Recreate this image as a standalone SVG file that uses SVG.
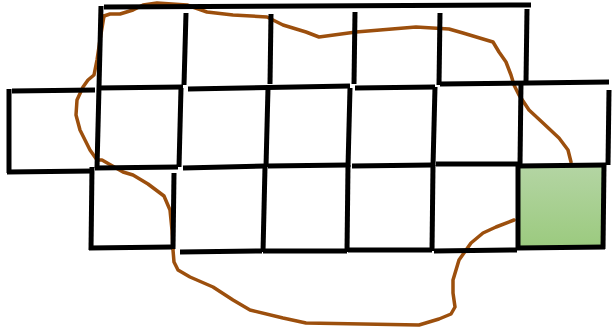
<svg xmlns="http://www.w3.org/2000/svg" width="612" height="331" viewBox="0 0 612 331">
<defs>
<linearGradient id="g" x1="0" y1="0" x2="0" y2="1">
<stop offset="0" stop-color="#b4d5a4"/>
<stop offset="1" stop-color="#9bca7e"/>
</linearGradient>
<style>
.k{stroke:#000;stroke-width:5;fill:none;stroke-linecap:butt}
.c{stroke:#9c4f0d;stroke-width:3.5;fill:none;stroke-linejoin:round;stroke-linecap:round}
</style>
</defs>
<rect width="612" height="331" fill="#fff"/>
<g id="green-cell">
<polygon points="518,166 605,165 603,247 519,248" fill="url(#g)"/>
</g>
<g id="curve">
<path class="c" d="M104,16 L110,14 L120,14 L133,10 L143,5 L157,3 L187,5 L207,12 L233,15 L267,17 L283,25 L306,32 L319,37 L356,32 L416,27 L449,29 L463,33 L493,42 L499,52 L506,62 L511,75 L514,85 L519,95 L529,110 L543,123 L559,138 L568,150 L571,162"/>
<path class="c" d="M514,220 L496,227 L483,233 L471,243 L459,260 L453,280 L453,293 L455,307 L451,314 L439,319 L419,325 L306,323 L283,318 L250,310 L233,300 L213,287 L190,277 L178,270 L174,262 L173,250 L172,230 L170,210 L164,196 L148,184 L133,175 L123,172 L102,160 L97,160 L90,150 L85,140 L80,130 L76,115 L77,100 L83,87 L88,80 L94,75 L97,60 L100,40 L104,16"/>
</g>
<g id="grid" class="k">
<line x1="104" y1="7" x2="531" y2="5"/>
<line x1="101" y1="6" x2="97" y2="168"/>
<line x1="186" y1="13" x2="184" y2="85"/>
<line x1="271" y1="14" x2="270" y2="84"/>
<line x1="355" y1="12" x2="354" y2="84"/>
<line x1="440" y1="13" x2="439" y2="85"/>
<line x1="527" y1="9" x2="526" y2="82"/>
<line x1="97" y1="88" x2="183" y2="87"/>
<line x1="188" y1="89" x2="350" y2="86"/>
<line x1="355" y1="88" x2="435" y2="87"/>
<line x1="440" y1="84" x2="609" y2="82"/>
<line x1="181" y1="88" x2="179" y2="167"/>
<line x1="268" y1="88" x2="266" y2="167"/>
<line x1="350" y1="88" x2="348" y2="167"/>
<line x1="435" y1="87" x2="433" y2="166"/>
<line x1="521" y1="82" x2="520" y2="165"/>
<line x1="609" y1="90" x2="608" y2="165"/>
<line x1="12" y1="91" x2="95" y2="90"/>
<line x1="9" y1="89" x2="9" y2="173"/>
<line x1="7" y1="172" x2="93" y2="171"/>
<line x1="95" y1="168" x2="178" y2="167"/>
<line x1="183" y1="168" x2="265" y2="166"/>
<line x1="268" y1="166" x2="348" y2="165"/>
<line x1="352" y1="166" x2="432" y2="165"/>
<line x1="436" y1="164" x2="518" y2="164"/>
<line x1="92" y1="167" x2="91" y2="250"/>
<line x1="89" y1="248" x2="172" y2="247"/>
<line x1="174" y1="173" x2="173" y2="249"/>
<line x1="180" y1="252" x2="262" y2="251"/>
<line x1="265" y1="167" x2="263" y2="252"/>
<line x1="263" y1="251" x2="347" y2="251"/>
<line x1="348" y1="165" x2="347" y2="252"/>
<line x1="348" y1="250" x2="432" y2="250"/>
<line x1="433" y1="165" x2="432" y2="251"/>
<line x1="434" y1="251" x2="517" y2="250"/>
</g>
<g id="green-border" class="k">
<line x1="518" y1="166" x2="606" y2="165"/>
<line x1="518" y1="166" x2="518" y2="250"/>
<line x1="604" y1="164" x2="603" y2="249"/>
<line x1="517" y1="248" x2="605" y2="247"/>
</g>
</svg>
